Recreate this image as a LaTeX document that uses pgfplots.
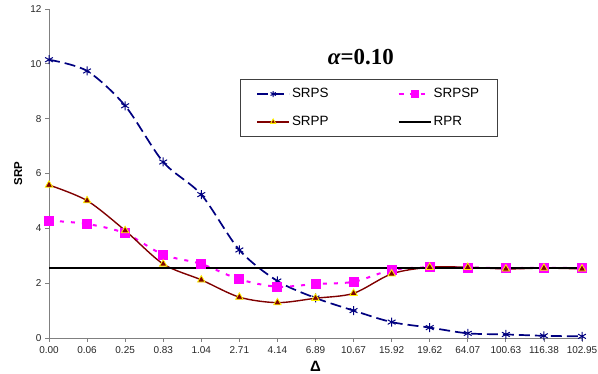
\documentclass[border=0pt]{standalone}
\usepackage{fontspec}
\setmainfont{Liberation Sans}
\newfontfamily\titlefont{Liberation Serif}
\usepackage{pgfplots}
\pgfplotsset{compat=1.18}
\definecolor{navy}{RGB}{0,0,128}
\definecolor{mag}{RGB}{255,0,255}
\definecolor{maroon}{RGB}{128,0,0}
\definecolor{axgray}{RGB}{128,128,128}
\begin{document}
\begin{tikzpicture}
\path[use as bounding box] (0bp,0bp) rectangle (598bp,374bp);
\begin{axis}[
  at={(49bp,36bp)}, anchor=south west,
  scale only axis, width=533bp, height=329bp,
  xmin=0, xmax=14, ymin=0, ymax=12,
  clip=false,
  axis lines*=left,
  axis line style={axgray, line width=1bp},
  xtick={0,...,14},
  xticklabels={0.00,0.06,0.25,0.83,1.04,2.71,4.14,6.89,10.67,15.92,19.62,64.07,100.63,116.38,102.95},
  ytick={0,2,...,12},
  tick style={axgray, line width=0.8bp},
  tick align=outside,
  major tick length=4bp,
  tick label style={font=\fontsize{10}{11}\selectfont, text=black!85},
  xticklabel style={yshift=-1.5bp},
  /pgf/number format/assume math mode=true,
  xlabel={\bfseries Δ},
  xlabel style={font=\fontsize{15}{16}\selectfont, at={(axis description cs:0.5,-0.085)}, anchor=center},
  ylabel={\bfseries SRP},
  ylabel style={font=\fontsize{11.5}{12}\selectfont, at={(axis description cs:-0.058,0.5)}, anchor=center},
  legend columns=2,
  legend cell align=left,
  legend image code/.code={\draw[mark repeat=2,mark phase=2,#1,mark size=3bp] plot coordinates {(0bp,0bp) (16bp,0bp) (32bp,0bp)};},
  legend style={at={(rel axis cs:0.358,0.787)}, anchor=north west,
    draw=black!75, line width=1bp, font=\fontsize{13.5}{14}\selectfont,
    inner xsep=16bp, inner ysep=7bp, row sep=13bp,
    /tikz/every even column/.append style={column sep=67bp}},
]
\addplot[navy, line width=1.7bp, dash pattern=on 11bp off 5bp, smooth, mark=asterisk, mark size=4.5bp, mark options={solid, line width=1bp}]
coordinates {(0,10.15)(1,9.74)(2,8.47)(3,6.42)(4,5.23)(5,3.21)(6,2.08)(7,1.46)(8,1.0)(9,0.58)(10,0.38)(11,0.17)(12,0.13)(13,0.08)(14,0.06)};
\addlegendentry{SRPS}
\addplot[mag, line width=2bp, dash pattern=on 4bp off 7bp, smooth, mark=square*, mark size=4bp, mark options={solid}]
coordinates {(0,4.28)(1,4.16)(2,3.82)(3,3.04)(4,2.70)(5,2.14)(6,1.87)(7,1.97)(8,2.05)(9,2.48)(10,2.58)(11,2.57)(12,2.55)(13,2.56)(14,2.55)};
\addlegendentry{SRPSP}
\addplot[maroon, line width=1.4bp, smooth, mark=triangle*, mark size=4.3bp, mark options={fill=maroon, draw=yellow, line width=0.8bp}]
coordinates {(0,5.58)(1,5.01)(2,3.92)(3,2.70)(4,2.12)(5,1.49)(6,1.29)(7,1.45)(8,1.63)(9,2.34)(10,2.58)(11,2.58)(12,2.52)(13,2.55)(14,2.52)};
\addlegendentry{SRPP}
\addplot[black, line width=1.6bp] coordinates {(0,2.56)(14,2.56)};
\addlegendentry{RPR}
\node[font=\titlefont\bfseries\fontsize{23}{25}\selectfont] at (rel axis cs:0.585,0.854) {\itshape α\upshape =0.10};
\end{axis}
\end{tikzpicture}
\end{document}
